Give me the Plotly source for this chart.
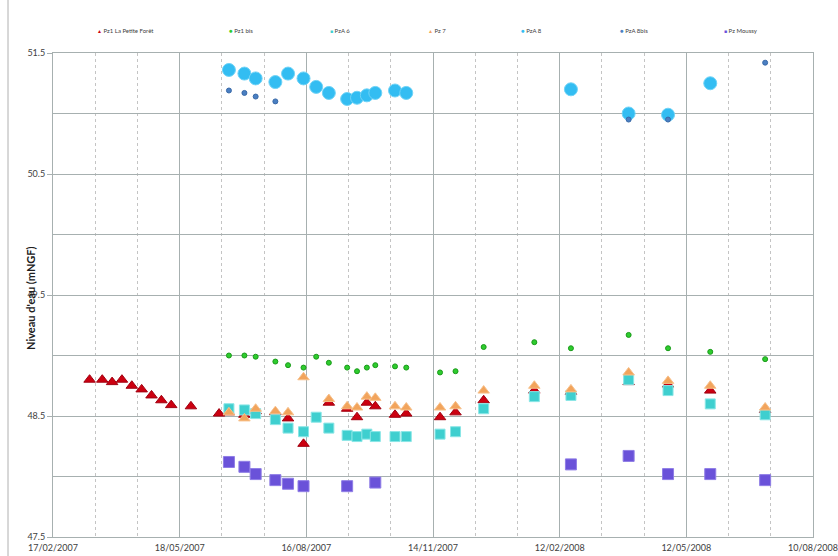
import plotly.graph_objects as go

# Measurement dates (one list shared by every piezometer)
dates = [
    "2007-03-15", "2007-03-24", "2007-03-31", "2007-04-07", "2007-04-14",
    "2007-04-21", "2007-04-28", "2007-05-05", "2007-05-12", "2007-05-26",
    "2007-06-15", "2007-06-22", "2007-07-03", "2007-07-11", "2007-07-25",
    "2007-08-03", "2007-08-14", "2007-08-23", "2007-09-01", "2007-09-14",
    "2007-09-21", "2007-09-28", "2007-10-04", "2007-10-18", "2007-10-26",
    "2007-11-19", "2007-11-30", "2007-12-20", "2008-01-25", "2008-02-20",
    "2008-04-01", "2008-04-29", "2008-05-29", "2008-07-07",
]

N = None
pz1_petite_foret = [48.80, 48.80, 48.78, 48.80, 48.75, 48.72, 48.67, 48.63, 48.59, 48.58,
                    48.52, 48.53, 48.51, 48.54, 48.53, 48.48, 48.27, N, 48.61, 48.56,
                    48.49, 48.61, 48.58, 48.51, 48.52, 48.49, 48.53, 48.63, 48.71, 48.70,
                    48.78, 48.76, 48.71, 48.55]
pz1_bis = [N, N, N, N, N, N, N, N, N, N,
           N, 49.00, 49.00, 48.99, 48.95, 48.92, 48.90, 48.99, 48.94, 48.90,
           48.87, 48.90, 48.92, 48.91, 48.90, 48.86, 48.87, 49.07, 49.11, 49.06,
           49.17, 49.06, 49.03, 48.97]
pza_6 = [N, N, N, N, N, N, N, N, N, N,
         N, 48.56, 48.55, 48.52, 48.47, 48.40, 48.37, 48.49, 48.40, 48.34,
         48.33, 48.35, 48.33, 48.33, 48.33, 48.35, 48.37, 48.56, 48.66, 48.67,
         48.80, 48.71, 48.60, 48.51]
pz_7 = [N, N, N, N, N, N, N, N, N, N,
        N, 48.53, 48.48, 48.56, 48.54, 48.53, 48.82, N, 48.64, 48.58,
        48.57, 48.66, 48.65, 48.58, 48.57, 48.57, 48.58, 48.71, 48.75, 48.72,
        48.86, 48.79, 48.75, 48.57]
pza_8 = [N, N, N, N, N, N, N, N, N, N,
         N, 51.36, 51.33, 51.29, 51.26, 51.33, 51.29, 51.22, 51.17, 51.12,
         51.13, 51.15, 51.17, 51.19, 51.17, N, N, N, N, 51.20,
         51.00, 50.99, 51.25, N]
pza_8bis = [N, N, N, N, N, N, N, N, N, N,
            N, 51.19, 51.17, 51.14, 51.10, N, N, N, N, N,
            N, N, N, N, N, N, N, N, N, N,
            50.95, 50.95, N, 51.42]
pz_moussy = [N, N, N, N, N, N, N, N, N, N,
             N, 48.12, 48.08, 48.02, 47.97, 47.94, 47.92, N, N, 47.92,
             N, N, 47.95, N, N, N, N, N, N, 48.10,
             48.17, 48.02, 48.02, 47.97]

series_names = ["Pz1 La Petite Forêt", "Pz1 bis", "PzA 6", "Pz 7",
                "PzA 8", "PzA 8bis", "Pz Moussy"]
series_values = [pz1_petite_foret, pz1_bis, pza_6, pz_7, pza_8, pza_8bis, pz_moussy]

y_ticks = [47.5, 48.5, 49.5, 50.5, 51.5]

# marker styles: symbol, size, fill, outline, legend glyph
styles = [
    ("triangle-up", 10, "#cc0010", "#a00010", "▲"),
    ("circle", 5, "#2ecc2e", "#1a9a1a", "●"),
    ("square", 10, "#3fcfcf", "#8ae6e6", "■"),
    ("triangle-up", 10, "#f2a45c", "#f7c08a", "▲"),
    ("circle", 13, "#33bdf2", "#6fd3f7", "●"),
    ("circle", 5, "#4a7fc2", "#3a6aa8", "●"),
    ("square", 11, "#6a52d9", "#8f7de6", "■"),
]

fig = go.Figure()
for name, vals, (sym, size, fill, line, _) in zip(series_names, series_values, styles):
    fig.add_trace(go.Scatter(
        x=dates, y=vals, mode="markers", name=name, showlegend=False,
        marker=dict(symbol=sym, size=size, color=fill,
                    line=dict(color=line, width=1)),
    ))

DAY = 86400000
grid_major = "#a7b0b0"
grid_minor = "#c4c4c4"
tick_font = dict(family="Lato, 'Liberation Sans', sans-serif", size=9, color="#404040")

fig.update_xaxes(
    type="date", range=["2007-02-17", "2008-08-10"],
    tick0="2007-02-17", dtick=90 * DAY, tickformat="%d/%m/%Y",
    showgrid=True, gridcolor=grid_major, gridwidth=1,
    showline=True, linecolor=grid_major, linewidth=1, mirror=True,
    ticks="", tickfont=tick_font, ticklabeloverflow="allow",
    ticklabelstandoff=2, automargin=False,
    minor=dict(tick0="2007-02-17", dtick=30 * DAY, showgrid=True,
               gridcolor=grid_minor, griddash="3px,3px", gridwidth=1),
    zeroline=False,
)
fig.update_yaxes(
    range=[47.5, 51.5], tickvals=y_ticks, ticktext=[f"{v:.1f}" for v in y_ticks],
    showgrid=True, gridcolor=grid_major, gridwidth=1,
    showline=True, linecolor=grid_major, linewidth=1, mirror=True,
    ticks="outside", ticklen=5, tickcolor=grid_major, tickfont=tick_font,
    automargin=False,
    minor=dict(tick0=47.5, dtick=0.5, showgrid=True, gridcolor=grid_major,
               gridwidth=1),
    zeroline=False,
)

# plot area in pixels
L, R, T, B = 53, 25, 53, 19
W, H = 838, 556
pw, ph = W - L - R, H - T - B


def px_x(x):
    return (x - L) / pw


def px_y(y):
    return (H - B - y) / ph


# axis title
fig.add_annotation(
    text="<b>Niveau d'eau (mNGF)</b>", textangle=-90,
    x=px_x(30), y=px_y(298), xref="paper", yref="paper",
    xanchor="center", yanchor="middle", showarrow=False,
    font=dict(family="Lato, 'Liberation Sans', sans-serif", size=11, color="#202020"),
)

# legend row across the top
legend_x = [95, 227, 328, 426, 519, 618, 722]
for name, (_, _, fill, _, glyph), lx in zip(series_names, styles, legend_x):
    gsize = 5 if glyph != "●" else 6
    fig.add_annotation(
        text=f"<span style='color:{fill};font-size:{gsize}px'>{glyph}</span> {name}",
        x=px_x(lx), y=px_y(30), xref="paper", yref="paper",
        xanchor="left", yanchor="middle", showarrow=False,
        font=dict(family="Lato, 'Liberation Sans', sans-serif", size=6, color="#404040"),
    )

# chart frame edge on the left
fig.add_shape(type="line", xref="paper", yref="paper",
              x0=px_x(8), x1=px_x(8), y0=px_y(H), y1=px_y(0),
              line=dict(color="#b0b0b0", width=1))

fig.update_layout(
    width=W, height=H, margin=dict(l=L, r=R, t=T, b=B),
    paper_bgcolor="white", plot_bgcolor="white", showlegend=False,
)

fig.write_html("out.html")
